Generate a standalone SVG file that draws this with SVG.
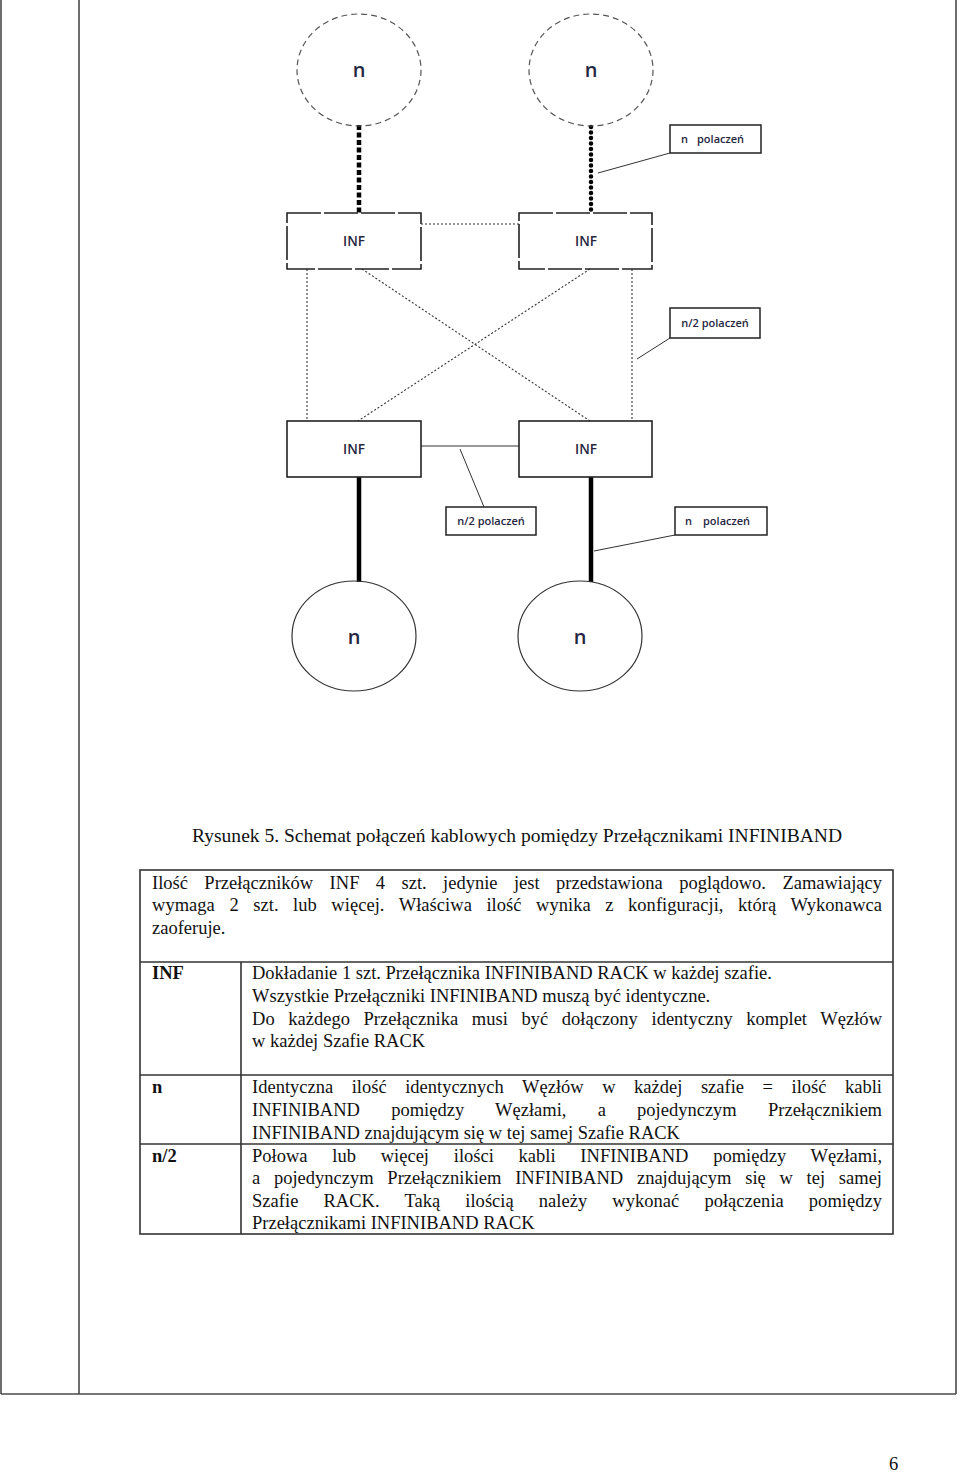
<svg xmlns="http://www.w3.org/2000/svg" width="960" height="1472" viewBox="0 0 960 1472">
<style>
.frame{stroke:#4a4a4a;stroke-width:1.6;fill:none}
.node{fill:#fff;stroke:#222;stroke-width:1.6}
.nodeDash{fill:#fff;stroke:#222;stroke-width:1.6;stroke-dasharray:34 3}
.circDash{fill:none;stroke:#555;stroke-width:1.2;stroke-dasharray:6 4}
.circ{fill:none;stroke:#333;stroke-width:1.2}
.lbl{fill:#fff;stroke:#222;stroke-width:1.5}
.dot{stroke:#333;stroke-width:1.1;stroke-dasharray:2 2;fill:none}
.lead{stroke:#333;stroke-width:1;fill:none}
.thick{stroke:#000;stroke-width:4.5;fill:none}
.sans{font-family:"Open Sans","Liberation Sans",sans-serif;fill:#262640}
.inf{font-size:13.5px;font-weight:600}
.nn{font-size:20px;font-weight:600}
.lt{font-size:11px;font-weight:600}
.ser{font-family:"Liberation Serif","Times New Roman",serif;font-size:18.5px;fill:#111}
.b{font-weight:bold}
.tbl{stroke:#333;stroke-width:1.6;fill:none}
</style>
<g id="page-frame">
<line class="frame" x1="1" y1="0" x2="1" y2="1394"/>
<line class="frame" x1="79" y1="0" x2="79" y2="1394"/>
<line class="frame" x1="956" y1="0" x2="956" y2="1394"/>
<line class="frame" x1="1" y1="1394" x2="956" y2="1394"/>
</g>
<g id="connectors">
<line class="thick" x1="359" y1="125" x2="359" y2="213" style="stroke-dasharray:5 2.5"/>
<line class="thick" x1="591" y1="127" x2="591" y2="212" style="stroke-linecap:round;stroke-dasharray:0.1 5.4;stroke-width:4.5"/>
<line class="dot" x1="421" y1="224" x2="519" y2="224"/>
<line class="dot" x1="307" y1="269" x2="307" y2="421"/>
<line class="dot" x1="632" y1="269" x2="632" y2="421"/>
<line class="dot" x1="362" y1="269" x2="590" y2="421"/>
<line class="dot" x1="590" y1="269" x2="358" y2="421"/>
<line class="lead" x1="421" y1="446" x2="519" y2="446"/>
<line class="thick" x1="359" y1="477" x2="359" y2="582"/>
<line class="thick" x1="591" y1="477" x2="591" y2="582"/>
<line class="lead" x1="670" y1="153" x2="598" y2="173"/>
<line class="lead" x1="670" y1="338" x2="637" y2="359"/>
<line class="lead" x1="460" y1="449" x2="484" y2="507"/>
<line class="lead" x1="675" y1="535" x2="594" y2="551"/>
</g>
<g id="node-top-left-n">
<ellipse class="circDash" cx="359" cy="70" rx="62" ry="56"/>
<text class="sans nn" x="359" y="77" text-anchor="middle">n</text>
</g>
<g id="node-top-right-n">
<ellipse class="circDash" cx="591" cy="70" rx="62" ry="56"/>
<text class="sans nn" x="591" y="77" text-anchor="middle">n</text>
</g>
<g id="node-inf-top-left">
<rect class="nodeDash" x="287" y="213" width="134" height="56"/>
<text class="sans inf" x="354" y="246" text-anchor="middle">INF</text>
</g>
<g id="node-inf-top-right">
<rect class="nodeDash" x="519" y="213" width="133" height="56"/>
<text class="sans inf" x="586" y="246" text-anchor="middle">INF</text>
</g>
<g id="node-inf-bottom-left">
<rect class="node" x="287" y="421" width="134" height="56"/>
<text class="sans inf" x="354" y="454" text-anchor="middle">INF</text>
</g>
<g id="node-inf-bottom-right">
<rect class="node" x="519" y="421" width="133" height="56"/>
<text class="sans inf" x="586" y="454" text-anchor="middle">INF</text>
</g>
<g id="node-bottom-left-n">
<ellipse class="circ" cx="354" cy="636" rx="62" ry="55"/>
<text class="sans nn" x="354" y="644" text-anchor="middle">n</text>
</g>
<g id="node-bottom-right-n">
<ellipse class="circ" cx="580" cy="636" rx="62" ry="55"/>
<text class="sans nn" x="580" y="644" text-anchor="middle">n</text>
</g>
<g id="label-n-top">
<rect class="lbl" x="670" y="125" width="91" height="28"/>
<text class="sans lt" y="143"><tspan x="681">n</tspan><tspan x="697">polaczeń</tspan></text>
</g>
<g id="label-n2-right">
<rect class="lbl" x="670" y="308" width="90" height="30"/>
<text class="sans lt" x="715" y="327" text-anchor="middle">n/2 polaczeń</text>
</g>
<g id="label-n2-bottom">
<rect class="lbl" x="446" y="507" width="90" height="28"/>
<text class="sans lt" x="491" y="525" text-anchor="middle">n/2 polaczeń</text>
</g>
<g id="label-n-bottom">
<rect class="lbl" x="675" y="507" width="92" height="28"/>
<text class="sans lt" y="525"><tspan x="685">n</tspan><tspan x="703">polaczeń</tspan></text>
</g>
<g id="caption">
<text class="ser" x="192" y="842" font-size="19.4" textLength="650" lengthAdjust="spacingAndGlyphs">Rysunek 5. Schemat połączeń kablowych pomiędzy Przełącznikami INFINIBAND</text>
</g>
<g id="table">
<rect class="tbl" x="140" y="870" width="753" height="364"/>
<line class="tbl" x1="140" y1="962" x2="893" y2="962"/>
<line class="tbl" x1="140" y1="1075" x2="893" y2="1075"/>
<line class="tbl" x1="140" y1="1144" x2="893" y2="1144"/>
<line class="tbl" x1="241" y1="962" x2="241" y2="1234"/>
<text class="ser" x="152" y="889" word-spacing="11.8" textLength="730" lengthAdjust="spacing">Ilość Przełączników INF 4 szt. jedynie jest przedstawiona poglądowo. Zamawiający</text>
<text class="ser" x="152" y="911" word-spacing="9.9" textLength="730" lengthAdjust="spacing">wymaga 2 szt. lub więcej. Właściwa ilość wynika z konfiguracji, którą Wykonawca</text>
<text class="ser" x="152" y="934">zaoferuje.</text>
<text class="ser b" x="152" y="979">INF</text>
<text class="ser" x="252" y="979">Dokładanie 1 szt. Przełącznika INFINIBAND RACK w każdej szafie.</text>
<text class="ser" x="252" y="1002">Wszystkie Przełączniki INFINIBAND muszą być identyczne.</text>
<text class="ser" x="252" y="1025" word-spacing="9" textLength="630" lengthAdjust="spacing">Do każdego Przełącznika musi być dołączony identyczny komplet Węzłów</text>
<text class="ser" x="252" y="1047">w każdej Szafie RACK</text>
<text class="ser b" x="152" y="1093">n</text>
<text class="ser" x="252" y="1093" word-spacing="13.9" textLength="630" lengthAdjust="spacing">Identyczna ilość identycznych Węzłów w każdej szafie = ilość kabli</text>
<text class="ser" x="252" y="1116" word-spacing="26.6" textLength="630" lengthAdjust="spacing">INFINIBAND pomiędzy Węzłami, a pojedynczym Przełącznikiem</text>
<text class="ser" x="252" y="1139">INFINIBAND znajdującym się w tej samej Szafie RACK</text>
<text class="ser b" x="152" y="1162">n/2</text>
<text class="ser" x="252" y="1162" word-spacing="20.1" textLength="630" lengthAdjust="spacing">Połowa lub więcej ilości kabli INFINIBAND pomiędzy Węzłami,</text>
<text class="ser" x="252" y="1184" word-spacing="9.1" textLength="630" lengthAdjust="spacing">a pojedynczym Przełącznikiem INFINIBAND znajdującym się w tej samej</text>
<text class="ser" x="252" y="1207" word-spacing="20.4" textLength="630" lengthAdjust="spacing">Szafie RACK. Taką ilością należy wykonać połączenia pomiędzy</text>
<text class="ser" x="252" y="1229">Przełącznikami INFINIBAND RACK</text>
</g>
<g id="page-number">
<text class="ser" x="889" y="1470" font-size="22">6</text>
</g>
</svg>
